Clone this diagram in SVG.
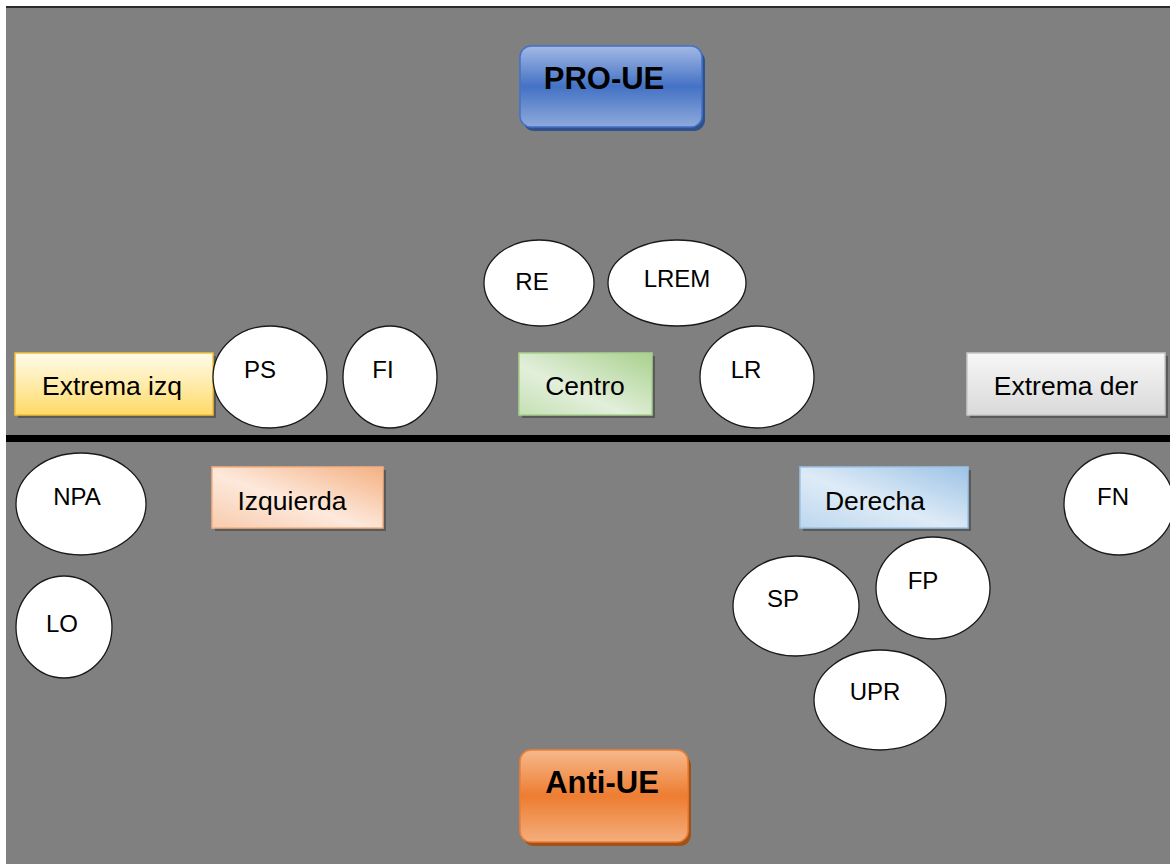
<svg xmlns="http://www.w3.org/2000/svg" width="1170" height="864" viewBox="0 0 1170 864">
  <defs>
    <linearGradient id="gBlue" x1="0" y1="0" x2="0" y2="1">
      <stop offset="0" stop-color="#a3b9e6"/>
      <stop offset="0.5" stop-color="#4472c4"/>
      <stop offset="1" stop-color="#8faadc"/>
    </linearGradient>
    <linearGradient id="gOrange" x1="0" y1="0" x2="0" y2="1">
      <stop offset="0" stop-color="#f7b98c"/>
      <stop offset="0.5" stop-color="#ed7d31"/>
      <stop offset="1" stop-color="#f4ae7d"/>
    </linearGradient>
    <linearGradient id="gYellow" x1="0" y1="0" x2="0" y2="1">
      <stop offset="0" stop-color="#fffbea"/>
      <stop offset="0.55" stop-color="#ffeaa5"/>
      <stop offset="1" stop-color="#ffd966"/>
    </linearGradient>
    <linearGradient id="gGreen" x1="1" y1="0" x2="0" y2="1">
      <stop offset="0" stop-color="#a9d18e"/>
      <stop offset="0.6" stop-color="#e2efda"/>
      <stop offset="1" stop-color="#c5e0b4"/>
    </linearGradient>
    <linearGradient id="gGray" x1="0" y1="0" x2="0" y2="1">
      <stop offset="0" stop-color="#f7f7f7"/>
      <stop offset="1" stop-color="#d9d9d9"/>
    </linearGradient>
    <linearGradient id="gPeach" x1="1" y1="0" x2="0" y2="1">
      <stop offset="0" stop-color="#f4b183"/>
      <stop offset="0.55" stop-color="#fde9dc"/>
      <stop offset="1" stop-color="#f8cbad"/>
    </linearGradient>
    <linearGradient id="gLtBlue" x1="1" y1="0" x2="0" y2="1">
      <stop offset="0" stop-color="#9dc3e6"/>
      <stop offset="0.55" stop-color="#deebf7"/>
      <stop offset="1" stop-color="#bdd7ee"/>
    </linearGradient>
  </defs>
  <style>
    .ell { fill: #ffffff; stroke: #1a1a1a; stroke-width: 1.3; }
    .lbl { font-family: "Liberation Sans", Arial, sans-serif; font-size: 24px; fill: #000; text-anchor: middle; }
    .rlbl { font-family: "Liberation Sans", Arial, sans-serif; font-size: 26.5px; fill: #000; text-anchor: middle; }
    .big { font-family: "Liberation Sans", Arial, sans-serif; font-size: 31px; font-weight: bold; fill: #000; text-anchor: middle; }
    .shadow { fill: #5a5a5a; }
  </style>

  <rect x="0" y="0" width="1170" height="864" fill="#ffffff"/>
  <rect x="6" y="7" width="1164" height="857" fill="#808080"/>
  <line x1="6" y1="7" x2="1170" y2="7" stroke="#2b2b2b" stroke-width="2"/>

  <g id="connectors">
    <line x1="6" y1="438.5" x2="1170" y2="438.5" stroke="#000000" stroke-width="7"/>
  </g>

  <g id="pro-ue">
    <rect x="523" y="50" width="182" height="81" rx="11" fill="#2f528f"/>
    <rect x="520" y="46" width="182" height="81" rx="11" fill="url(#gBlue)" stroke="#4472c4" stroke-width="1.5"/>
    <text class="big" x="604" y="89">PRO-UE</text>
  </g>

  <g id="anti-ue">
    <rect x="523" y="754" width="168" height="92" rx="11" fill="#a0521a"/>
    <rect x="520" y="750" width="168" height="92" rx="11" fill="url(#gOrange)" stroke="#ed7d31" stroke-width="1.5"/>
    <text class="big" x="602" y="793">Anti-UE</text>
  </g>

  <g id="extrema-izq">
    <rect class="shadow" x="18" y="356" width="198" height="62"/>
    <rect x="15" y="353" width="198" height="62" fill="url(#gYellow)" stroke="#f2c03c" stroke-width="1.5"/>
    <text class="rlbl" x="112" y="395">Extrema izq</text>
  </g>

  <g id="centro">
    <rect class="shadow" x="522" y="356" width="133" height="62"/>
    <rect x="519" y="353" width="133" height="62" fill="url(#gGreen)" stroke="#a9d18e" stroke-width="1.5"/>
    <text class="rlbl" x="585" y="395">Centro</text>
  </g>

  <g id="extrema-der">
    <rect class="shadow" x="970" y="356" width="198" height="62"/>
    <rect x="967" y="353" width="198" height="62" fill="url(#gGray)" stroke="#c8c8c8" stroke-width="1.5"/>
    <text class="rlbl" x="1066" y="395">Extrema der</text>
  </g>

  <g id="izquierda">
    <rect class="shadow" x="215" y="470" width="171" height="61"/>
    <rect x="212" y="467" width="171" height="61" fill="url(#gPeach)" stroke="#f4b183" stroke-width="1.5"/>
    <text class="rlbl" x="292" y="510">Izquierda</text>
  </g>

  <g id="derecha">
    <rect class="shadow" x="803" y="470" width="168" height="61"/>
    <rect x="800" y="467" width="168" height="61" fill="url(#gLtBlue)" stroke="#9dc3e6" stroke-width="1.5"/>
    <text class="rlbl" x="875" y="510">Derecha</text>
  </g>

  <g id="re">
    <ellipse class="ell" cx="539" cy="283" rx="55" ry="43"/>
    <text class="lbl" x="532" y="290">RE</text>
  </g>
  <g id="lrem">
    <ellipse class="ell" cx="677" cy="283" rx="69" ry="43"/>
    <text class="lbl" x="677" y="287">LREM</text>
  </g>
  <g id="lr">
    <ellipse class="ell" cx="757" cy="377" rx="57" ry="51"/>
    <text class="lbl" x="746" y="378">LR</text>
  </g>
  <g id="ps">
    <ellipse class="ell" cx="270" cy="377" rx="57" ry="51"/>
    <text class="lbl" x="260" y="378">PS</text>
  </g>
  <g id="fi">
    <ellipse class="ell" cx="390" cy="377" rx="47" ry="51"/>
    <text class="lbl" x="383" y="378">FI</text>
  </g>
  <g id="npa">
    <ellipse class="ell" cx="81" cy="504" rx="65" ry="51"/>
    <text class="lbl" x="77" y="505">NPA</text>
  </g>
  <g id="lo">
    <ellipse class="ell" cx="64" cy="627" rx="48" ry="51"/>
    <text class="lbl" x="62" y="632">LO</text>
  </g>
  <g id="fn">
    <ellipse class="ell" cx="1119" cy="504" rx="55" ry="51"/>
    <text class="lbl" x="1113" y="505">FN</text>
  </g>
  <g id="sp">
    <ellipse class="ell" cx="796" cy="606" rx="63" ry="50"/>
    <text class="lbl" x="783" y="607">SP</text>
  </g>
  <g id="fp">
    <ellipse class="ell" cx="933" cy="588" rx="57" ry="51"/>
    <text class="lbl" x="923" y="589">FP</text>
  </g>
  <g id="upr">
    <ellipse class="ell" cx="880" cy="700" rx="66" ry="50"/>
    <text class="lbl" x="875" y="700">UPR</text>
  </g>
</svg>
